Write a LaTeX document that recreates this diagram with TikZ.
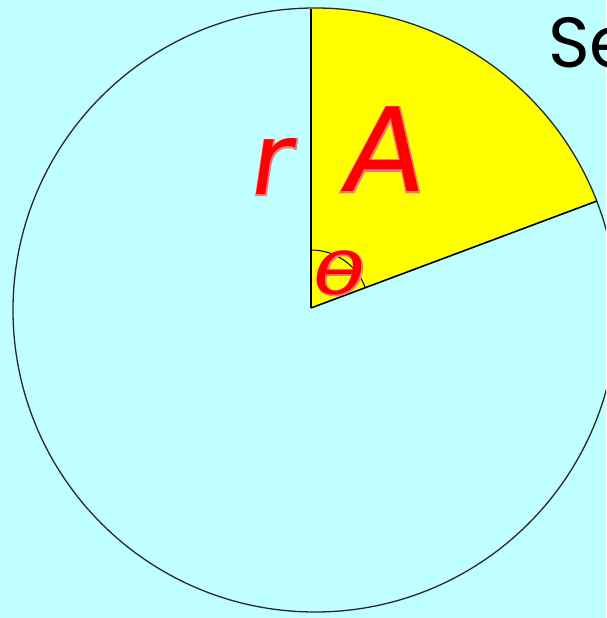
\documentclass[tikz,border=0pt]{standalone}
\usepackage{fontspec}
\setmainfont{DejaVu Sans}
\newfontfamily\handfont[FakeSlant=0.15]{DejaVu Sans}
\newfontfamily\halofont[FakeBold=2.5,FakeSlant=0.15]{DejaVu Sans}
\newfontfamily\sefont{Poppins}
\definecolor{bgcyan}{RGB}{192,255,255}
\definecolor{sectoryellow}{RGB}{255,255,0}
\definecolor{inkred}{RGB}{255,0,0}
\definecolor{halored}{RGB}{240,120,120}
\definecolor{outline}{RGB}{40,40,40}
\tikzset{
  rim/.style={draw=outline, line width=1.3pt},
  edge/.style={draw=black, line width=1.6pt},
  anglemark/.style={draw=black, line width=1pt},
  handhalo/.style={text=halored, inner sep=0pt, anchor=base},
  handink/.style={text=inkred, inner sep=0pt, anchor=base},
}
\begin{document}
\begin{tikzpicture}[x=1pt,y=1pt]
\useasboundingbox (0,0) rectangle (606,618);
\fill[bgcyan] (0,0) rectangle (606,618);
\begin{scope}
\clip (0,0) rectangle (606,618);
\coordinate (apex) at (311,310);
\coordinate (top) at (311,609);
\coordinate (edgeend) at (597,417);
\coordinate (cc) at (315,308);
\fill[sectoryellow] (apex) -- (edgeend) arc[start angle=21.13,end angle=90.76,radius=302] -- cycle;
\draw[rim] (cc) circle[radius=302];
\draw[edge] (apex) -- (top);
\draw[edge] (apex) -- (edgeend);
\draw[anglemark] (311,368) arc[start angle=90,end angle=20.5,radius=58];
% handwritten labels
\node[handhalo, font=\halofont\fontsize{100}{100}\selectfont] at (268,423) {r};
\node[handink, font=\handfont\fontsize{100}{100}\selectfont] (lr) at (268,423) {r};
\node[handhalo, font=\halofont\fontsize{116}{116}\selectfont] at (380,426) {A};
\node[handink, font=\handfont\fontsize{116}{116}\selectfont] (lA) at (380,426) {A};
\node[handhalo, font=\halofont\fontsize{57}{57}\selectfont] at (335,323) {\scalebox{1.5}[1]{θ}};
\node[handink, font=\handfont\fontsize{57}{57}\selectfont] (lth) at (335,323) {\scalebox{1.5}[1]{θ}};
\node[anchor=base west, inner sep=0pt, font=\sefont\fontsize{71}{71}\selectfont] (se) at (548,550) {Se};
\end{scope}
\end{tikzpicture}
\end{document}
